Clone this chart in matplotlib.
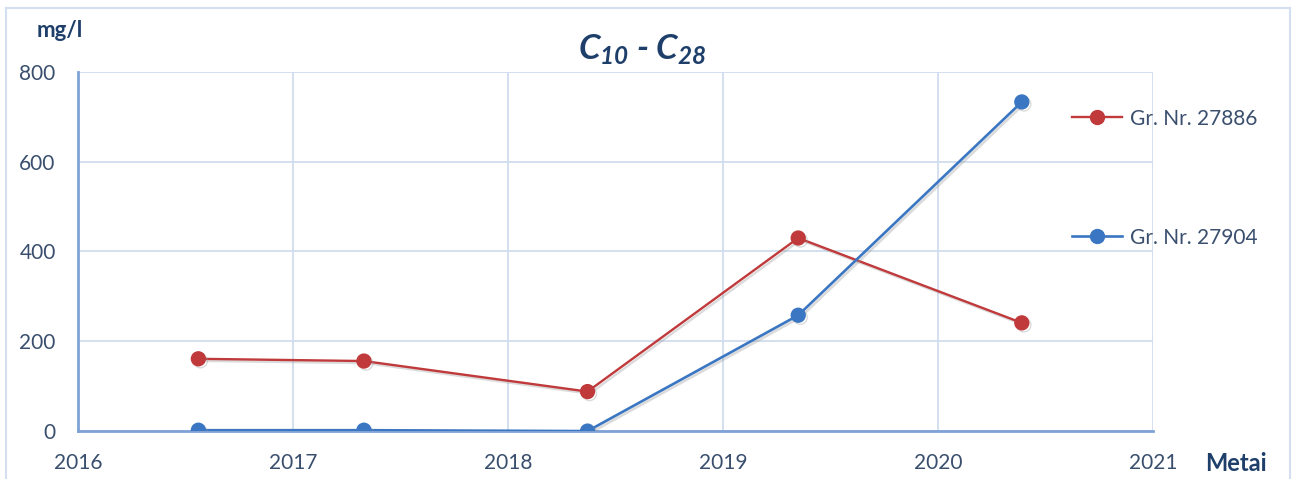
import matplotlib.pyplot as plt
from matplotlib.lines import Line2D
from matplotlib.patches import Rectangle
import matplotlib.patheffects as pe

# Mėginių datos (metai) ir C10-C28 koncentracijos, mg/l
metai = [2016.56, 2017.33, 2018.37, 2019.35, 2020.39]
gr_27886 = [161, 156, 88, 430, 241]
gr_27904 = [2, 2, 0, 258, 733]
x_ticks = [2016, 2017, 2018, 2019, 2020, 2021]
y_ticks = [0, 200, 400, 600, 800]

plt.rcParams['font.family'] = ['Lato', 'DejaVu Sans']
plt.rcParams['mathtext.fontset'] = 'custom'
plt.rcParams['mathtext.rm'] = 'Lato:bold:italic'
plt.rcParams['mathtext.it'] = 'Lato:bold:italic'

tekstas = '#3a4f6e'
tamsi = '#1f3f6b'
raudona = '#c0393b'
melyna = '#3a76c2'

fig = plt.figure(figsize=(12.93, 4.79), dpi=100)
ax = fig.add_axes([0.0603, 0.100, 0.8314, 0.750])

# Rėmelis aplink visą diagramą
fig.patches.append(Rectangle((0.005, -0.05), 0.993, 1.033, transform=fig.transFigure,
                             fill=False, edgecolor='#d3deee', linewidth=1.5))

seselis = [pe.SimpleLineShadow(offset=(1.5, -1.5), shadow_color='#999999', alpha=0.35), pe.Normal()]
ax.plot(metai, gr_27886, color=raudona, linewidth=1.7, marker='o', markersize=10,
        path_effects=seselis, zorder=3)
ax.plot(metai, gr_27904, color=melyna, linewidth=1.9, marker='o', markersize=10,
        path_effects=seselis, zorder=3)

ax.set_xlim(2016, 2021)
ax.set_ylim(0, 800)
ax.set_xticks(x_ticks)
ax.set_yticks(y_ticks)
ax.grid(True, color='#d0ddef', linewidth=1.3)
ax.set_axisbelow(True)
for s in ['top', 'right']:
    ax.spines[s].set_visible(False)
for s in ['left', 'bottom']:
    ax.spines[s].set_color('#7fa2d6')
    ax.spines[s].set_linewidth(2)
ax.tick_params(length=0, labelsize=15, labelcolor=tekstas)
ax.tick_params(axis='y', pad=16)
ax.tick_params(axis='x', pad=16)

fig.text(0.497, 0.896, r'$C_{10}$ - $C_{28}$', fontsize=25, fontweight='bold',
         fontstyle='italic', color=tamsi, ha='center', va='center')
fig.text(0.0464, 0.937, 'mg/l', fontsize=16, fontweight='bold', color=tamsi,
         ha='center', va='center')
fig.text(0.956, 0.033, 'Metai', fontsize=17, fontweight='bold', color=tamsi,
         ha='center', va='center')

rankenos = [Line2D([], [], color=raudona, linewidth=1.7, marker='o', markersize=10),
            Line2D([], [], color=melyna, linewidth=1.9, marker='o', markersize=10)]
fig.legend(rankenos, ['Gr. Nr. 27886', 'Gr. Nr. 27904'], frameon=False,
           loc='upper left', bbox_to_anchor=(0.829, 0.773), fontsize=15,
           labelcolor=tekstas, handlelength=2.4, handletextpad=0.38,
           labelspacing=4.75, borderaxespad=0, borderpad=0)

fig.savefig('out.png', dpi=100, facecolor='white')
